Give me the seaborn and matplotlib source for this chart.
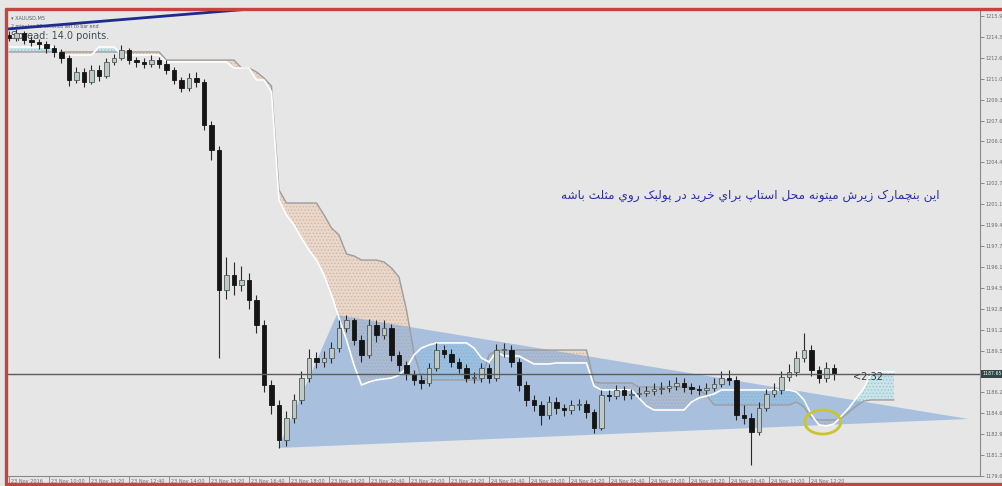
import pandas as pd
import seaborn as sns
from matplotlib import pyplot as plt
from matplotlib import transforms
from matplotlib.lines import Line2D
from matplotlib.patches import Polygon, Ellipse

# XAUUSD, one candle per 15 minutes
first_open = 1214.40
closes = [
    1214.16, 1214.56, 1214.00, 1213.85, 1213.69, 1213.37, 1213.06, 1212.58, 1210.85, 1211.48,
    1210.69, 1211.64, 1211.16, 1212.27, 1212.58, 1213.21, 1212.42, 1212.27, 1212.11, 1212.42,
    1212.11, 1211.64, 1210.85, 1210.22, 1211.00, 1210.69, 1207.30, 1205.32, 1194.28, 1195.46,
    1194.67, 1195.07, 1193.49, 1191.52, 1186.78, 1185.20, 1182.44, 1184.18, 1185.60, 1187.33,
    1188.91, 1188.60, 1188.91, 1189.70, 1191.28, 1191.91, 1190.33, 1189.15, 1191.52, 1190.73,
    1191.28, 1189.15, 1188.36, 1187.65, 1187.18, 1186.94, 1188.12, 1189.54, 1189.23, 1188.60,
    1188.12, 1187.33, 1187.33, 1188.12, 1187.33, 1189.54, 1189.54, 1188.60, 1186.78, 1185.60,
    1185.20, 1184.42, 1185.44, 1184.97, 1184.81, 1185.20, 1185.28, 1184.65, 1183.39, 1185.99,
    1185.91, 1186.39, 1185.99, 1186.07, 1186.15, 1186.31, 1186.47, 1186.55, 1186.70, 1186.94,
    1186.62, 1186.47, 1186.39, 1186.55, 1186.86, 1187.33, 1187.18, 1184.42, 1184.18, 1183.07,
    1184.97, 1186.07, 1186.39, 1187.41, 1187.81, 1188.91, 1189.54, 1187.96, 1187.33, 1188.12,
    1187.65]
highs = [
    1214.75, 1214.90, 1214.70, 1214.30, 1214.10, 1213.90, 1213.60, 1213.30, 1212.80, 1211.90,
    1211.80, 1212.00, 1212.00, 1212.60, 1212.90, 1213.60, 1213.40, 1212.70, 1212.60, 1212.80,
    1212.70, 1212.40, 1211.90, 1211.10, 1211.40, 1211.50, 1210.90, 1207.60, 1205.60, 1196.90,
    1196.50, 1196.20, 1195.60, 1193.90, 1191.90, 1187.20, 1185.60, 1184.70, 1186.10, 1187.90,
    1189.60, 1189.40, 1189.50, 1190.20, 1191.90, 1192.30, 1192.10, 1190.70, 1192.00, 1191.90,
    1191.90, 1191.60, 1189.50, 1188.70, 1188.00, 1187.60, 1188.50, 1190.10, 1189.90, 1189.60,
    1188.90, 1188.40, 1187.80, 1188.50, 1188.40, 1190.00, 1190.10, 1189.90, 1188.90, 1187.10,
    1186.00, 1185.50, 1185.90, 1185.80, 1185.30, 1185.60, 1185.70, 1185.60, 1184.90, 1186.40,
    1186.40, 1186.80, 1186.70, 1186.50, 1186.60, 1186.70, 1186.90, 1187.00, 1187.20, 1187.40,
    1187.30, 1186.90, 1186.80, 1186.90, 1187.30, 1187.90, 1188.00, 1187.50, 1185.20, 1184.60,
    1185.40, 1186.50, 1186.90, 1187.90, 1188.40, 1189.50, 1190.90, 1189.90, 1188.30, 1188.60,
    1188.40]
lows = [
    1213.90, 1213.95, 1213.70, 1213.50, 1213.30, 1213.00, 1212.70, 1212.20, 1210.40, 1210.60,
    1210.30, 1210.50, 1210.80, 1211.00, 1212.00, 1212.40, 1212.10, 1211.90, 1211.80, 1211.90,
    1211.80, 1211.30, 1210.50, 1209.90, 1210.00, 1210.30, 1206.90, 1204.50, 1188.90, 1193.60,
    1193.90, 1194.20, 1192.80, 1190.90, 1186.20, 1184.50, 1181.80, 1182.00, 1183.80, 1185.30,
    1187.00, 1188.10, 1188.20, 1188.50, 1189.40, 1191.00, 1189.90, 1188.60, 1188.90, 1190.20,
    1190.40, 1188.70, 1187.90, 1187.20, 1186.80, 1186.50, 1186.70, 1187.90, 1188.90, 1188.20,
    1187.70, 1187.00, 1186.90, 1187.00, 1186.90, 1187.10, 1189.00, 1188.20, 1186.30, 1185.10,
    1184.70, 1183.60, 1184.10, 1184.50, 1184.30, 1184.50, 1184.80, 1184.20, 1183.00, 1183.20,
    1185.50, 1185.70, 1185.60, 1185.70, 1185.80, 1185.90, 1186.00, 1186.10, 1186.20, 1186.40,
    1186.20, 1186.10, 1186.00, 1186.10, 1186.30, 1186.60, 1186.80, 1184.00, 1183.70, 1180.50,
    1182.80, 1184.70, 1185.80, 1186.10, 1187.10, 1187.50, 1188.60, 1187.50, 1186.90, 1187.00,
    1187.20]

# Ichimoku cloud borders (shifted 26 bars ahead, so they run past the last candle)
span_a = [
    1213.45, 1213.45, 1213.45, 1213.45, 1213.45, 1213.45, 1213.45, 1212.82, 1212.82, 1212.82,
    1212.82, 1212.82, 1213.45, 1213.45, 1213.45, 1212.82, 1212.82, 1212.82, 1212.82, 1212.82,
    1212.82, 1212.27, 1212.27, 1212.27, 1212.27, 1212.27, 1212.27, 1212.27, 1212.27, 1212.27,
    1211.79, 1211.79, 1211.79, 1210.85, 1210.85, 1209.90, 1201.38, 1200.20, 1199.41, 1198.38,
    1197.43, 1196.64, 1195.46, 1193.88, 1192.07, 1190.33, 1188.36, 1186.78, 1187.02, 1187.18,
    1187.26, 1187.33, 1187.57, 1188.12, 1189.15, 1189.70, 1189.94, 1190.10, 1190.10, 1190.10,
    1190.10, 1190.10, 1189.70, 1188.91, 1188.60, 1189.39, 1189.07, 1189.07, 1189.07, 1188.75,
    1188.44, 1188.44, 1188.44, 1188.52, 1188.52, 1188.52, 1188.52, 1188.52, 1186.70, 1186.39,
    1186.39, 1186.39, 1186.39, 1186.39, 1185.76, 1185.13, 1184.81, 1184.81, 1184.81, 1184.81,
    1184.81, 1185.44, 1185.76, 1185.91, 1186.07, 1186.39, 1186.39, 1186.39, 1186.39, 1186.39,
    1186.39, 1186.39, 1186.39, 1186.39, 1186.39, 1186.23, 1185.60, 1184.42, 1183.63, 1183.55,
    1183.71, 1184.34, 1184.97, 1185.76, 1186.55, 1187.73, 1187.81, 1187.81, 1187.81]
span_b = [
    1213.06, 1213.06, 1213.06, 1213.06, 1213.06, 1213.06, 1213.06, 1213.06, 1213.06, 1213.06,
    1213.06, 1213.06, 1213.06, 1213.06, 1213.06, 1213.06, 1213.06, 1213.06, 1213.06, 1213.06,
    1213.06, 1212.42, 1212.42, 1212.42, 1212.42, 1212.42, 1212.42, 1212.42, 1212.42, 1212.42,
    1212.42, 1211.79, 1211.79, 1211.48, 1211.00, 1210.37, 1202.17, 1201.14, 1201.14, 1201.14,
    1201.14, 1201.14, 1200.20, 1199.17, 1198.62, 1197.12, 1196.96, 1196.64, 1196.64, 1196.64,
    1196.49, 1196.01, 1195.30, 1192.70, 1189.31, 1187.33, 1187.18, 1187.18, 1187.18, 1187.18,
    1187.18, 1187.18, 1187.18, 1187.18, 1189.15, 1189.54, 1189.54, 1189.54, 1189.54, 1189.54,
    1189.54, 1189.54, 1189.54, 1189.54, 1189.54, 1189.54, 1189.54, 1189.54, 1187.02, 1186.94,
    1186.94, 1186.94, 1186.94, 1186.94, 1186.62, 1186.62, 1186.62, 1186.62, 1186.62, 1186.62,
    1186.62, 1186.62, 1186.39, 1185.99, 1185.20, 1185.20, 1185.20, 1185.20, 1185.20, 1185.20,
    1185.20, 1185.20, 1185.20, 1185.20, 1185.20, 1185.44, 1185.05, 1184.18, 1184.02, 1184.02,
    1184.02, 1184.18, 1184.65, 1185.13, 1185.52, 1185.60, 1185.60, 1185.60, 1185.60]

# hand drawn objects on the chart (bar index, price)
triangle_bars = [35.9, 43.7, 127.9]
triangle_prices = [1181.81, 1192.31, 1184.10]
trend_bars = [-0.2, 40.0]
trend_prices = [1214.87, 1216.83]
ellipse_bar, ellipse_price = 108.5, 1183.86

price_ticks = [1215.9, 1214.25, 1212.6, 1210.95, 1209.3, 1207.65, 1206.0, 1204.35, 1202.7,
               1201.05, 1199.4, 1197.75, 1196.1, 1194.45, 1192.8, 1191.15, 1189.5,
               1186.2, 1184.55, 1182.9, 1181.25, 1179.6]
price_labels = ['1215.9', '1214.3', '1212.6', '1211.0', '1209.3', '1207.6', '1206.0', '1204.4',
                '1202.7', '1201.1', '1199.4', '1197.7', '1196.1', '1194.5', '1192.8', '1191.2',
                '1189.5', '1186.2', '1184.6', '1182.9', '1181.3', '1179.6']
time_labels = ['23 Nov 2016', '23 Nov 10:00', '23 Nov 11:20', '23 Nov 12:40', '23 Nov 14:00',
               '23 Nov 15:20', '23 Nov 16:40', '23 Nov 18:00', '23 Nov 19:20', '23 Nov 20:40',
               '23 Nov 22:00', '23 Nov 23:20', '24 Nov 01:40', '24 Nov 03:00', '24 Nov 04:20',
               '24 Nov 05:40', '24 Nov 07:00', '24 Nov 08:20', '24 Nov 09:40', '24 Nov 11:00',
               '24 Nov 12:20']
bars_per_label = 80 / 15

note_fa = 'این بنچمارک زیرش میتونه محل استاپ براي خريد در پولبک روي مثلث باشه'

# matplotlib has no arabic shaping, so pick presentation forms by hand
AR_FORMS = {
    'ا': ('\ufe8d', '\ufe8e', None, None),
    'ب': ('\ufe8f', '\ufe90', '\ufe91', '\ufe92'),
    'پ': ('\ufb56', '\ufb57', '\ufb58', '\ufb59'),
    'ت': ('\ufe95', '\ufe96', '\ufe97', '\ufe98'),
    'ث': ('\ufe99', '\ufe9a', '\ufe9b', '\ufe9c'),
    'چ': ('\ufb7a', '\ufb7b', '\ufb7c', '\ufb7d'),
    'ح': ('\ufea1', '\ufea2', '\ufea3', '\ufea4'),
    'خ': ('\ufea5', '\ufea6', '\ufea7', '\ufea8'),
    'د': ('\ufea9', '\ufeaa', None, None),
    'ر': ('\ufead', '\ufeae', None, None),
    'ز': ('\ufeaf', '\ufeb0', None, None),
    'س': ('\ufeb1', '\ufeb2', '\ufeb3', '\ufeb4'),
    'ش': ('\ufeb5', '\ufeb6', '\ufeb7', '\ufeb8'),
    'ک': ('\ufb8e', '\ufb8f', '\ufb90', '\ufb91'),
    'ل': ('\ufedd', '\ufede', '\ufedf', '\ufee0'),
    'م': ('\ufee1', '\ufee2', '\ufee3', '\ufee4'),
    'ن': ('\ufee5', '\ufee6', '\ufee7', '\ufee8'),
    'ه': ('\ufee9', '\ufeea', '\ufeeb', '\ufeec'),
    'و': ('\ufeed', '\ufeee', None, None),
    'ي': ('\ufef1', '\ufef2', '\ufef3', '\ufef4'),
    'ی': ('\ufbfc', '\ufbfd', '\ufbfe', '\ufbff'),
}


def shape_rtl(text):
    out = []
    for k, ch in enumerate(text):
        if ch not in AR_FORMS:
            out.append(ch)
            continue
        prev = text[k - 1] if k > 0 else ''
        nxt = text[k + 1] if k + 1 < len(text) else ''
        iso, fin, ini, med = AR_FORMS[ch]
        joins_prev = prev in AR_FORMS and AR_FORMS[prev][2] is not None
        joins_next = ini is not None and nxt in AR_FORMS
        if joins_prev and joins_next:
            out.append(med)
        elif joins_prev:
            out.append(fin)
        elif joins_next:
            out.append(ini)
        else:
            out.append(iso)
    return ''.join(reversed(out))


candles = pd.DataFrame({'close': closes, 'high': highs, 'low': lows})
candles['bar'] = range(len(candles))
candles['open'] = candles['close'].shift(1).fillna(first_open)
candles['up'] = candles['close'] >= candles['open']
cloud = pd.DataFrame({'bar': range(len(span_a)), 'span_a': span_a, 'span_b': span_b})
last_price = closes[-1]

sns.set_style('white')
plt.rcParams['font.family'] = ['DejaVu Sans']
plt.rcParams['hatch.linewidth'] = 0.6

bg = '#e6e6e6'
fig = plt.figure(figsize=(10.03, 4.86), dpi=100, facecolor=bg)
ax = fig.add_axes([8 / 1003, 10 / 486, 972 / 1003, 466 / 486], facecolor=bg)

bull = cloud['span_a'] >= cloud['span_b']
ax.fill_between(cloud['bar'], cloud['span_a'], cloud['span_b'], where=~bull, interpolate=True,
                facecolor='#ead3c2', edgecolor='#d6a688', hatch='.....', linewidth=0,
                alpha=0.7, zorder=1)
ax.fill_between(cloud['bar'], cloud['span_a'], cloud['span_b'], where=bull, interpolate=True,
                facecolor='#c4e4ea', edgecolor='#79c3d3', hatch='.....', linewidth=0,
                alpha=0.75, zorder=1)

# blue triangle sits over the cloud, so the cloud looks grey under it
ax.add_patch(Polygon(list(zip(triangle_bars, triangle_prices)), closed=True,
                     facecolor='#7fa7d9', edgecolor='none', alpha=0.6, zorder=2))

sns.lineplot(data=cloud, x='bar', y='span_b', color='#9d9d9d', lw=1.0, ax=ax, zorder=3)
sns.lineplot(data=cloud, x='bar', y='span_a', color='white', lw=1.2, ax=ax, zorder=3)

# candles
ax.vlines(candles['bar'], candles['low'], candles['high'], color='#2a2a2a', lw=0.8, zorder=4)
body_low = candles[['open', 'close']].min(axis=1)
body_h = (candles['close'] - candles['open']).abs().clip(lower=0.06)
ax.bar(candles['bar'], body_h, bottom=body_low, width=0.62,
       color=['#bfcac8' if u else '#151515' for u in candles['up']],
       edgecolor=['#4f5b58' if u else '#151515' for u in candles['up']],
       linewidth=0.6, zorder=5)

ax.plot(trend_bars, trend_prices, color='#1d2a8f', lw=2.0, zorder=6)
ax.axhline(last_price, color='#5b5b5b', lw=1.0, zorder=6)
ax.add_patch(Ellipse((ellipse_bar, ellipse_price), 4.8, 1.9, facecolor='none',
                     edgecolor='#c9c62a', lw=2.0, zorder=7))

ax.set_xlim(-0.133, 129.47)
ax.set_ylim(1179.6, 1216.37)

ax.yaxis.tick_right()
ax.set_yticks(price_ticks)
ax.set_yticklabels(price_labels)
ax.set_xticks([k * bars_per_label for k in range(len(time_labels))])
ax.set_xticklabels(time_labels, ha='left')
ax.tick_params(axis='y', length=3, width=0.6, color='#777777', labelsize=3.6,
               labelcolor='#6a6a6a', pad=1, right=True)
ax.tick_params(axis='x', length=8, width=0.6, color='#888888', labelsize=3.6,
               labelcolor='#6a6a6a', pad=-6, bottom=True, direction='out')
for lab in ax.get_xticklabels():
    lab.set_transform(lab.get_transform() + transforms.ScaledTranslation(2 / 100, 0, fig.dpi_scale_trans))
ax.set_xlabel('')
ax.set_ylabel('')
for side in ['top', 'left']:
    ax.spines[side].set_visible(False)
for side in ['right', 'bottom']:
    ax.spines[side].set_color('#8a8a8a')
    ax.spines[side].set_linewidth(0.8)

# current price tag on the price scale
tag_tr = transforms.blended_transform_factory(ax.transAxes, ax.transData)
ax.text(1.002, last_price, f'{last_price:.2f}', transform=tag_tr, ha='left', va='center',
        fontsize=3.3, color='white', zorder=8, clip_on=False,
        bbox=dict(boxstyle='square,pad=0.3', fc='#2f4747', ec='none'))
ax.text(112.6, 1187.45, '<2:32', fontsize=7, color='#3a3a3a', ha='left', va='center', zorder=8)

ax.text(0.003, 0.988, '\u25be XAUUSD,M5', transform=ax.transAxes, fontsize=3.6,
        color='#58606a', va='top')
ax.text(0.003, 0.970, '2 minutes 32 seconds left to bar end', transform=ax.transAxes,
        fontsize=3.4, color='#58606a', va='top')
ax.text(0.003, 0.955, 'Spread: 14.0 points.', transform=ax.transAxes, fontsize=7,
        color='#3f4e56', va='top')
ax.text(98.8, 1201.77, shape_rtl(note_fa), fontsize=8.7, color='#2b2faa', ha='center',
        va='center', family=['DejaVu Sans'], zorder=8)

# red window frame of the screenshot
for xs, ys in [([6, 1003], [9, 9]), ([6, 6], [9, 484]), ([6, 1003], [484, 484])]:
    fig.add_artist(Line2D([x / 1003 for x in xs], [1 - y / 486 for y in ys],
                          color='#c2463f', lw=2.4))

fig.savefig('out.png', dpi=100, facecolor=bg)
